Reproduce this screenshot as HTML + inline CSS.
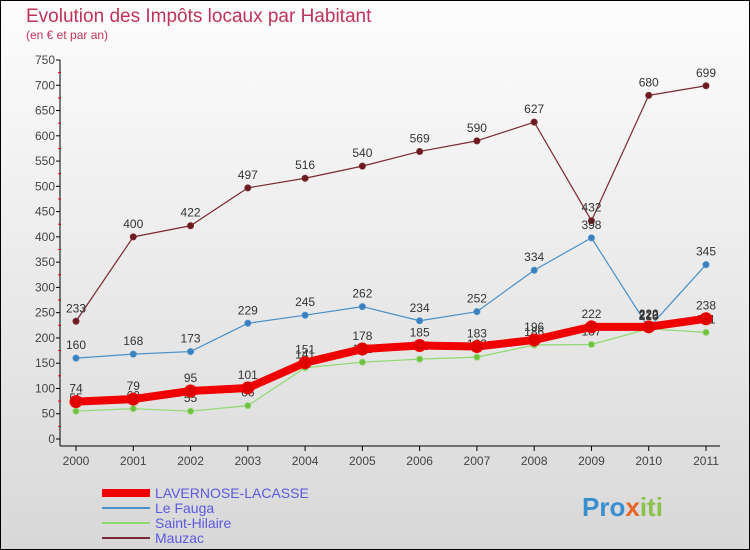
<!DOCTYPE html>
<html><head><meta charset="utf-8"><style>
body{margin:0}
#c{width:750px;height:550px;position:relative;overflow:hidden;font-family:"Liberation Sans",sans-serif}
</style></head><body>
<div id="c">
<svg id="s" width="750" height="550" xmlns="http://www.w3.org/2000/svg">
<defs><linearGradient id="bg" x1="0" y1="0" x2="0" y2="1"><stop offset="0" stop-color="#fdfdfd"/><stop offset="1" stop-color="#d8d8d8"/></linearGradient></defs>
<rect x="0.5" y="0.5" width="749" height="549" fill="url(#bg)" stroke="#000"/>
<text x="26" y="22" font-size="19" fill="#c0325a">Evolution des Impôts locaux par Habitant</text>
<text x="26" y="39" font-size="12" fill="#c0325a">(en € et par an)</text>
<g id="axes"></g><g id="series"></g><g id="legend"></g>
<text x="582" y="516" font-size="26" font-weight="bold"><tspan fill="#3a8fd0">Pro</tspan><tspan fill="#e8652a">x</tspan><tspan fill="#8bc34a">iti</tspan></text>
</svg></div>
<script>
const years=[2000,2001,2002,2003,2004,2005,2006,2007,2008,2009,2010,2011];
const yTicks=[0,50,100,150,200,250,300,350,400,450,500,550,600,650,700,750];
const lavernose=[74,79,95,101,151,178,185,183,196,222,222,238];
const leFauga=[160,168,173,229,245,262,234,252,334,398,220,345];
const saintHilaire=[55,60,55,66,141,152,158,162,186,187,218,211];
const mauzac=[233,400,422,497,516,540,569,590,627,432,680,699];
const NS="http://www.w3.org/2000/svg";
const X=i=>76+i*(630/11);
const Y=v=>439-v*(379/750);
function mk(t,a,p){const e=document.createElementNS(NS,t);for(const k in a)e.setAttribute(k,a[k]);p.appendChild(e);return e;}
const ax=document.getElementById('axes');
const yl=mk('line',{x1:60,y1:60,x2:60,y2:446,stroke:'#000'},ax);


const xl=mk('line',{x1:60,y1:446,x2:720,y2:446,stroke:'#000'},ax);


yTicks.forEach(v=>{
 mk('line',{x1:56,x2:60,y1:Y(v),y2:Y(v),stroke:'#000'},ax);
 if(v<750)mk('line',{x1:58,x2:61,y1:Y(v+25),y2:Y(v+25),stroke:'#e00'},ax);
 const t=mk('text',{x:55,y:Y(v)+4,'font-size':12,'text-anchor':'end',fill:'#444'},ax);t.textContent=v;
 
 
});
years.forEach((y,i)=>{
 mk('line',{x1:X(i),x2:X(i),y1:446,y2:451,stroke:'#000'},ax);
 const t=mk('text',{x:X(i),y:465,'font-size':12,'text-anchor':'middle',fill:'#444'},ax);t.textContent=y;
 
 
});
const sg=document.getElementById('series');
function draw(d,col,w,r,dot,name){
 const g=mk('g',{},sg);
 
 
 mk('polyline',{points:d.map((v,i)=>X(i)+','+Y(v)).join(' '),fill:'none',stroke:col,'stroke-width':w,'stroke-linejoin':'round'},g);
 d.forEach((v,i)=>{
  const c=mk('circle',{cx:X(i),cy:Y(v),r:r,fill:dot,stroke:col,'stroke-width':1},g);
  
  
  const t=mk('text',{x:X(i),y:Y(v)-9,'font-size':12,'text-anchor':'middle',fill:'#333'},g);t.textContent=v;
  
  
 });
}
draw(mauzac,'#7a2a30',1.2,3,'#6b1a20','mauzac-series');
draw(leFauga,'#4a90c8',1.2,3,'#3a80c0','le-fauga-series');
draw(saintHilaire,'#90d870',1.2,3,'#70c040','saint-hilaire-series');
draw(lavernose,'#f00000',8,6,'#e00000','lavernose-series');
const lg=document.getElementById('legend');
const items=[['LAVERNOSE-LACASSE','#f00000',8],['Le Fauga','#4a90c8',2],['Saint-Hilaire','#90d870',2],['Mauzac','#7a2a30',2]];
items.forEach((it,i)=>{
 const yy=493+i*15;
 const g=mk('g',{},lg);
 
 
 mk('line',{x1:102,x2:150,y1:yy,y2:yy,stroke:it[1],'stroke-width':it[2]},g);
 const t=mk('text',{x:155,y:yy+5,'font-size':14,fill:'#5a5ae0'},g);t.textContent=it[0];
});
</script>
</body></html>
